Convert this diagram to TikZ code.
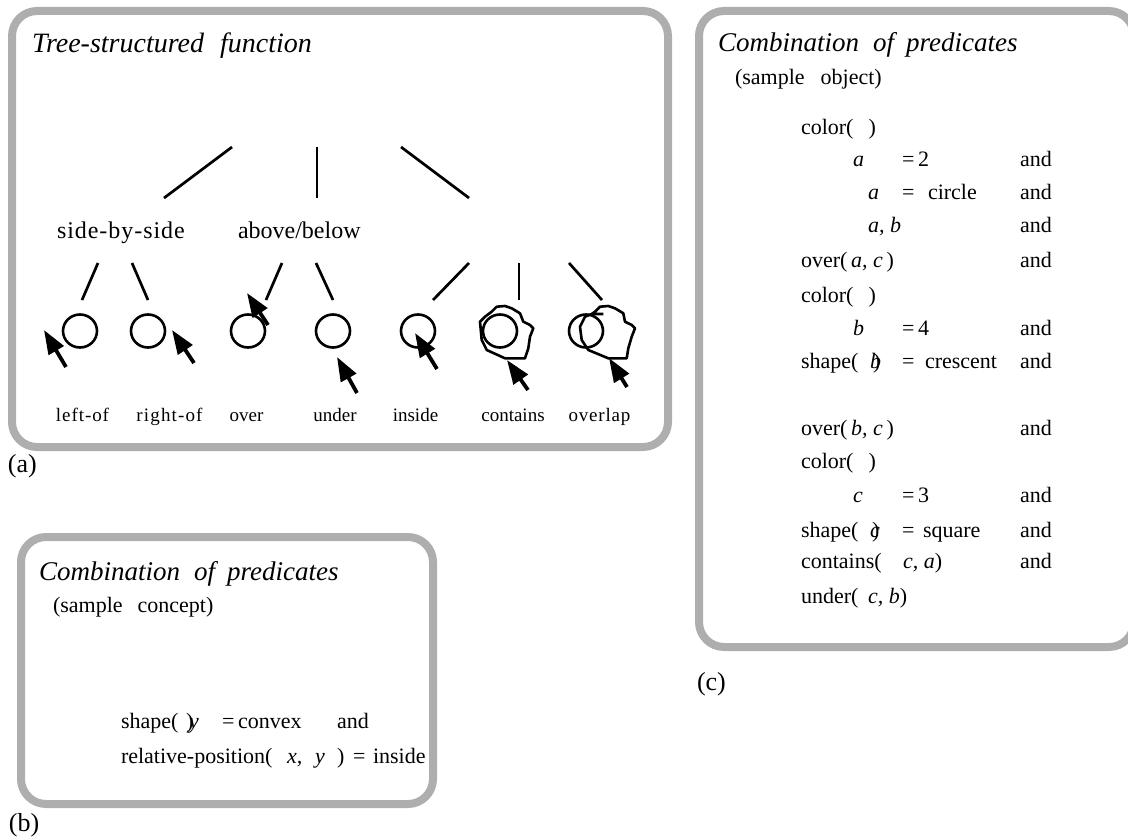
\documentclass[tikz,border=0pt]{standalone}
\usepackage{fontspec}
\setmainfont{Liberation Serif}
\usetikzlibrary{arrows.meta}
\definecolor{framegray}{RGB}{174,174,174}
\tikzset{
  frame/.style={draw=framegray, line width=8pt, rounded corners=25pt},
  branch/.style={line width=2.7pt},
  obj/.style={line width=2.6pt, line join=round},
  pointer/.style={line width=3.8pt, -{Triangle[length=24pt,width=17pt]}},
  txt/.style={anchor=base west, inner sep=0pt, outer sep=0pt, font=\fontsize{22}{26}\selectfont},
  ttl/.style={txt, font=\fontsize{27}{31}\selectfont\itshape},
  ttlA/.style={txt, font=\fontsize{28}{32}\selectfont\itshape},
  sub/.style={txt, font=\fontsize{22}{26}\selectfont},
  catlbl/.style={txt, font=\fontsize{24}{28}\selectfont},
  lbl/.style={anchor=base, inner sep=0pt, outer sep=0pt, font=\fontsize{19}{22}\selectfont},
  panel/.style={txt, font=\fontsize{26}{30}\selectfont},
}
\begin{document}
\begin{tikzpicture}[x=1pt,y=-1pt]
\useasboundingbox (0,0) rectangle (1128,840);
% ---------- frames
\draw[frame] (12,11) rectangle (668,447);
\draw[frame] (21,537) rectangle (433,804);
\draw[frame] (699,11) rectangle (1134,647);
\node[panel] (pa) at (8,472) {(a)};
\node[panel] (pb) at (9,831) {(b)};
\node[panel] (pc) at (697,690) {(c)};
% ---------- (a) tree-structured function
\node[ttlA] (ta) at (32,53) {Tree-structured\hspace{16pt}function};
\coordinate (r1s) at (232,147); \coordinate (r1e) at (164,198);
\coordinate (r2s) at (317,147); \coordinate (r2e) at (317,198);
\coordinate (r3s) at (401,147); \coordinate (r3e) at (469,198);
\draw[branch] (r1s) -- (r1e);
\draw[branch] (r2s) -- (r2e);
\draw[branch] (r3s) -- (r3e);
\node[catlbl] (sbs) at (57,238) {\addfontfeature{LetterSpace=4}side-by-side};
\node[catlbl] (ab) at (238,238) {above/below};
\coordinate (b1s) at (98,263);  \coordinate (b1e) at (82,300);
\coordinate (b2s) at (132,263); \coordinate (b2e) at (148,300);
\coordinate (b3s) at (282,263); \coordinate (b3e) at (266,300);
\coordinate (b4s) at (316,263); \coordinate (b4e) at (333,300);
\coordinate (b5s) at (469,263); \coordinate (b5e) at (433,300);
\coordinate (b6s) at (519,263); \coordinate (b6e) at (519,300);
\coordinate (b7s) at (569,263); \coordinate (b7e) at (602,300);
\foreach \i in {1,...,7} \draw[branch] (b\i s) -- (b\i e);
% circles
\foreach \nm/\x in {c1/80,c2/148,c3/248,c4/333,c5/418,c6/500,c7/586}
  \draw[obj] (\x,331) ellipse [x radius=17, y radius=16.5];
% blobs
\draw[obj] (480,321.7) -- (481.7,340) -- (486.7,350) -- (505,358.3) -- (525,358.3) -- (528.3,348.3) -- (530,336.7) -- (533.3,328.3) -- (530,325) -- (523.3,321.7) -- (520,313.3) -- (511.7,308.3) -- (505,306) -- (496.7,306.7) -- (491.7,311.7) -- (485,316.7) -- cycle;
\draw[obj] (603.3,314) -- (591.7,314) -- (585,316.7) -- (580,326.7) -- (581.7,340) -- (588.3,350) -- (608.3,358.3) -- (626.7,358.3) -- (628.3,348.3) -- (631.7,336.7) -- (635,328.3) -- (631.7,325) -- (625,321.7) -- (623.3,313.3) -- (615,308.3) -- (608.3,306) -- (600,306.7) -- (595,311.7) -- (591.7,314);
% arrows
\coordinate (p1s) at (66,367);  \coordinate (p1e) at (44,330);
\coordinate (p2s) at (194,363); \coordinate (p2e) at (172,330);
\coordinate (p3s) at (268,325); \coordinate (p3e) at (247,293);
\coordinate (p4s) at (357,393); \coordinate (p4e) at (337,357);
\coordinate (p5s) at (437,369); \coordinate (p5e) at (415,333);
\coordinate (p6s) at (528,390); \coordinate (p6e) at (507,360);
\coordinate (p7s) at (627,387); \coordinate (p7e) at (609,358);
\foreach \i in {1,...,7} \draw[pointer] (p\i s) -- (p\i e);
% labels
\node[lbl] (l1) at (82.5,421) {\addfontfeature{LetterSpace=5}left-of};
\node[lbl] (l2) at (169.5,421) {\addfontfeature{LetterSpace=6}right-of};
\node[lbl] (l3) at (246.5,421) {over};
\node[lbl] (l4) at (335,421) {under};
\node[lbl] (l5) at (415.5,421) {inside};
\node[lbl] (l6) at (513,421) {contains};
\node[lbl] (l7) at (599.5,421) {\addfontfeature{LetterSpace=4}overlap};
% ---------- (b) sample concept
\node[ttl] (tb) at (39,580) {Combination\hspace{14pt}of\hspace{12pt}predicates};
\node[sub] (sb) at (53,612) {(sample\hspace{15pt}concept)};
\node[txt] (b1a) at (121,728) {shape(};
\node[txt] (b1b) at (189,728) {\itshape y};
\node[txt] (b1c) at (186,728) {)};
\node[txt] (b1d) at (222,728) {=\,convex};
\node[txt] (b1e) at (337,728) {and};
\node[txt] (b2a) at (121,763) {relative-position(};
\node[txt] (b2b) at (287,763) {\itshape x,};
\node[txt] (b2c) at (315,763) {\itshape y};
\node[txt] (b2d) at (337,763) {)};
\node[txt] (b2e) at (353,763) {=};
\node[txt] (b2f) at (373,763) {inside};
% ---------- (c) sample object
\node[ttl] (tc) at (718,52) {Combination\hspace{14pt}of\hspace{12pt}predicates};
\node[sub] (sc) at (735,85) {(sample\hspace{16pt}object)};
% line 1
\node[txt] (k1a) at (801,135) {color(\hspace{15pt})};
% line 2
\node[txt] (k2a) at (853,167) {\itshape a};
\node[txt] (k2b) at (902,167) {=\,2};
\node[txt] (k2c) at (1020,167) {and};
% line 3
\node[txt] (k3a) at (868,200) {\itshape a};
\node[txt] (k3b) at (902,200) {=};
\node[txt] (k3c) at (928,200) {circle};
\node[txt] (k3d) at (1020,200) {and};
% line 4
\node[txt] (k4a) at (868,233) {\itshape a, b};
\node[txt] (k4b) at (1020,233) {and};
% line 5
\node[txt] (k5a) at (801,267) {over(\,\textit{a, c}\,)};
\node[txt] (k5b) at (1020,267) {and};
% line 6
\node[txt] (k6a) at (801,302) {color(\hspace{15pt})};
% line 7
\node[txt] (k7a) at (853,335) {\itshape b};
\node[txt] (k7b) at (902,335) {=\,4};
\node[txt] (k7c) at (1020,335) {and};
% line 8
\node[txt] (k8a) at (801,368) {shape(};
\node[txt] (k8b) at (870,368) {\itshape b};
\node[txt] (k8c) at (873,368) {)};
\node[txt] (k8d) at (902,368) {=};
\node[txt] (k8e) at (925,368) {crescent};
\node[txt] (k8f) at (1020,368) {and};
% line 9
\node[txt] (k9a) at (801,435) {over(\,\textit{b, c}\,)};
\node[txt] (k9b) at (1020,435) {and};
% line 10
\node[txt] (k10a) at (801,468) {color(\hspace{15pt})};
% line 11
\node[txt] (k11a) at (853,502) {\itshape c};
\node[txt] (k11b) at (902,502) {=\,3};
\node[txt] (k11c) at (1020,502) {and};
% line 12
\node[txt] (k12a) at (801,537) {shape(};
\node[txt] (k12b) at (870,537) {\itshape c};
\node[txt] (k12c) at (872,537) {)};
\node[txt] (k12d) at (902,537) {=};
\node[txt] (k12e) at (923,537) {square};
\node[txt] (k12f) at (1020,537) {and};
% line 13
\node[txt] (k13a) at (801,568) {contains(};
\node[txt] (k13b) at (903,568) {\itshape c, a\upshape )};
\node[txt] (k13c) at (1020,568) {and};
% line 14
\node[txt] (k14a) at (801,603) {under(};
\node[txt] (k14b) at (868,603) {\itshape c, b\upshape )};
\end{tikzpicture}
\end{document}
